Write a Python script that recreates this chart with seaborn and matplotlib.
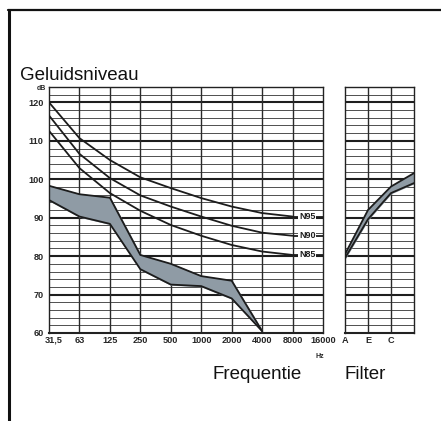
import numpy as np
import pandas as pd
import matplotlib
matplotlib.use("Agg")
import matplotlib.pyplot as plt
import matplotlib.transforms as mtransforms
import seaborn as sns
from matplotlib.lines import Line2D

# data
freq_labels = ['31,5', '63', '125', '250', '500', '1000', '2000', '4000', '8000', '16000']
filter_labels = ['A', 'E', 'C', '']

n_names = ['N95', 'N90', 'N85']
n95 = [120.0, 110.7, 105.0, 100.5, 97.7, 95.1, 92.9, 91.2, 90.3]
n90 = [116.6, 106.6, 100.3, 95.8, 92.9, 90.3, 87.9, 86.1, 85.3]
n85 = [112.6, 102.9, 96.4, 91.8, 88.1, 85.3, 82.9, 81.2, 80.3]

band_upper = [98.3, 96.1, 95.2, 80.3, 78.0, 74.8, 73.6, 60.5]
band_lower = [94.6, 90.3, 88.4, 76.6, 72.6, 72.2, 69.0, 60.5]

filt_upper = [80.5, 92.0, 98.1, 101.6]
filt_lower = [79.5, 89.6, 96.4, 99.0]

sns.set_theme(style='white')
plt.rcParams['font.family'] = ['Liberation Sans', 'DejaVu Sans']

W, H = 441, 421
fig = plt.figure(figsize=(W / 100, H / 100), dpi=100)
fig.patch.set_facecolor('white')

def px_axes(x0, x1, y0, y1):
    return fig.add_axes([x0 / W, 1 - y1 / H, (x1 - x0) / W, (y1 - y0) / H])

ax = px_axes(49, 323, 87, 333)
axf = px_axes(345, 414, 87, 333)

line_col = '#1c1c1c'
fill_col = '#8f9ba5'
tick_fs = 6.6

def style_grid(a, nx):
    a.set_ylim(60, 124)
    a.set_xlim(0, nx)
    for v in range(62, 124, 2):
        if v % 10:
            a.axhline(v, color='#333333', lw=0.6, zorder=1)
        else:
            a.axhline(v, color='#1e1e1e', lw=1.5, zorder=1)
    for xv in range(1, nx):
        a.axvline(xv, color='#2a2a2a', lw=1.0, zorder=1)
    for side, sp in a.spines.items():
        sp.set_visible(True)
        sp.set_color('#222222')
        sp.set_linewidth(1.0)
    a.spines['bottom'].set_linewidth(1.5)
    a.tick_params(length=0, pad=2)
    a.set_xlabel('')
    a.set_ylabel('')

# N-curves
curves = pd.DataFrame({
    'x': list(range(len(n95))) * 3,
    'dB': n95 + n90 + n85,
    'curve': sum([[n] * len(n95) for n in n_names], []),
})
sns.lineplot(data=curves, x='x', y='dB', hue='curve',
             palette=[line_col] * 3, legend=False, lw=1.3, ax=ax, zorder=4)
for name, vals in zip(n_names, [n95, n90, n85]):
    ax.hlines(vals[-1], len(vals) - 1, len(freq_labels) - 1, color=line_col, lw=1.3, zorder=4)
    ax.text(8.48, vals[-1], name, fontsize=6.5, fontweight='bold', ha='center', va='center',
            color=line_col, zorder=5,
            bbox=dict(facecolor='white', edgecolor='none', pad=0.6))

# measured band
bx = np.arange(len(band_upper))
ax.fill_between(bx, band_lower, band_upper, color=fill_col, zorder=2)
sns.lineplot(x=bx, y=band_upper, color=line_col, lw=1.3, ax=ax, zorder=3)
sns.lineplot(x=bx, y=band_lower, color=line_col, lw=1.3, ax=ax, zorder=3)

style_grid(ax, len(freq_labels) - 1)
ax.set_xticks(range(len(freq_labels)))
ax.set_xticklabels(freq_labels, fontsize=tick_fs, fontweight='bold')
first = ax.get_xticklabels()[0]
first.set_ha('left')
first.set_transform(first.get_transform() +
                    mtransforms.ScaledTranslation(-4 / 100, 0, fig.dpi_scale_trans))
ax.set_yticks(range(60, 121, 10))
ax.set_yticklabels([str(v) for v in range(60, 121, 10)], fontsize=tick_fs, fontweight='bold')
ax.tick_params(axis='y', pad=4)

# filter panel
fx = np.arange(len(filt_upper))
axf.fill_between(fx, filt_lower, filt_upper, color=fill_col, zorder=2)
sns.lineplot(x=fx, y=filt_upper, color=line_col, lw=1.3, ax=axf, zorder=3)
sns.lineplot(x=fx, y=filt_lower, color=line_col, lw=1.3, ax=axf, zorder=3)
style_grid(axf, len(filter_labels) - 1)
axf.set_xticks(range(len(filter_labels)))
axf.set_xticklabels(filter_labels, fontsize=tick_fs, fontweight='bold')
axf.set_yticks([])

# texts
fig.text(20 / W, 1 - 80 / H, 'Geluidsniveau', fontsize=13.5, va='baseline', color='#111111')
fig.text(46 / W, 1 - 89 / H, 'dB', fontsize=5, fontweight='bold', ha='right', va='center')
fig.text(213 / W, 1 - 379 / H, 'Frequentie', fontsize=13.5, va='baseline', color='#111111')
fig.text(345 / W, 1 - 379 / H, 'Filter', fontsize=13.5, va='baseline', color='#111111')
fig.text(320 / W, 1 - 357 / H, 'Hz', fontsize=5, fontweight='bold', ha='center', va='center')

# outer frame
fig.add_artist(Line2D([8 / W, 1.0], [1 - 10 / H] * 2, color='#111111', lw=1.6))
fig.add_artist(Line2D([9 / W] * 2, [0.0, 1 - 10 / H], color='#111111', lw=2.2))

fig.savefig('out.png', dpi=100)
